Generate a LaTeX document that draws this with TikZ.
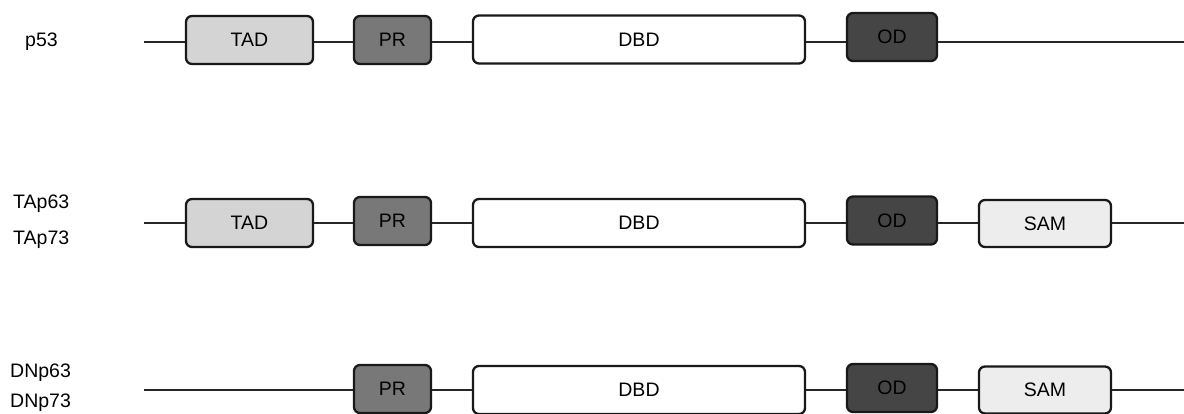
\documentclass[tikz,border=0pt]{standalone}
\usepackage{fontspec}
\setmainfont{Liberation Sans}
\begin{document}
\begin{tikzpicture}[x=1pt,y=-1pt,
  dom/.style={draw=black!90, line width=2.3pt, rounded corners=6pt, inner sep=0pt, anchor=center, font=\fontsize{19.5}{21}\selectfont},
  tad/.style={dom, fill=black!17, minimum width=127pt, minimum height=48pt},
  pr/.style={dom, fill=black!53, minimum width=77pt, minimum height=48pt},
  dbd/.style={dom, fill=white, minimum width=332pt, minimum height=48pt},
  od/.style={dom, fill=black!73, minimum width=90pt, minimum height=48pt},
  sam/.style={dom, fill=black!7, minimum width=132pt, minimum height=47pt},
  conn/.style={line width=1.4pt, black!85},
  lab/.style={anchor=west, inner sep=0pt, font=\fontsize{19.5}{21}\selectfont}]
\useasboundingbox (0,0) rectangle (1184,414);
% row 1: p53
\node[lab] (l1) at (25,42) {p53};
\coordinate (s1) at (144,42);
\coordinate (e1) at (1184,42);
\node[tad] (tad1) at (249.5,40) {TAD};
\node[pr] (pr1) at (392.5,40) {PR};
\node[dbd] (dbd1) at (639,39.5) {DBD};
\node[od] (od1) at (892,37) {OD};
\draw[conn] (s1) -- (s1 -| tad1.west);
\draw[conn] (tad1.east |- s1) -- (pr1.west |- s1);
\draw[conn] (pr1.east |- s1) -- (dbd1.west |- s1);
\draw[conn] (dbd1.east |- s1) -- (od1.west |- s1);
\draw[conn] (od1.east |- s1) -- (e1);
% row 2: TAp63 / TAp73
\node[lab] (l2a) at (13,204) {TAp63};
\node[lab] (l2b) at (13,240) {TAp73};
\coordinate (s2) at (144,223);
\coordinate (e2) at (1184,223);
\node[tad] (tad2) at (249.5,223) {TAD};
\node[pr] (pr2) at (392.5,221) {PR};
\node[dbd] (dbd2) at (639,223) {DBD};
\node[od] (od2) at (892,220.5) {OD};
\node[sam] (sam2) at (1045,223.5) {SAM};
\draw[conn] (s2) -- (s2 -| tad2.west);
\draw[conn] (tad2.east |- s2) -- (pr2.west |- s2);
\draw[conn] (pr2.east |- s2) -- (dbd2.west |- s2);
\draw[conn] (dbd2.east |- s2) -- (od2.west |- s2);
\draw[conn] (od2.east |- s2) -- (sam2.west |- s2);
\draw[conn] (sam2.east |- s2) -- (e2);
% row 3: DNp63 / DNp73
\node[lab] (l3a) at (10,373) {DNp63};
\node[lab] (l3b) at (10,403) {DNp73};
\coordinate (s3) at (144,390);
\coordinate (e3) at (1184,390);
\node[pr] (pr3) at (392.5,389) {PR};
\node[dbd] (dbd3) at (639,390) {DBD};
\node[od] (od3) at (892,388) {OD};
\node[sam] (sam3) at (1045,390) {SAM};
\draw[conn] (s3) -- (s3 -| pr3.west);
\draw[conn] (pr3.east |- s3) -- (dbd3.west |- s3);
\draw[conn] (dbd3.east |- s3) -- (od3.west |- s3);
\draw[conn] (od3.east |- s3) -- (sam3.west |- s3);
\draw[conn] (sam3.east |- s3) -- (e3);
\end{tikzpicture}
\end{document}
